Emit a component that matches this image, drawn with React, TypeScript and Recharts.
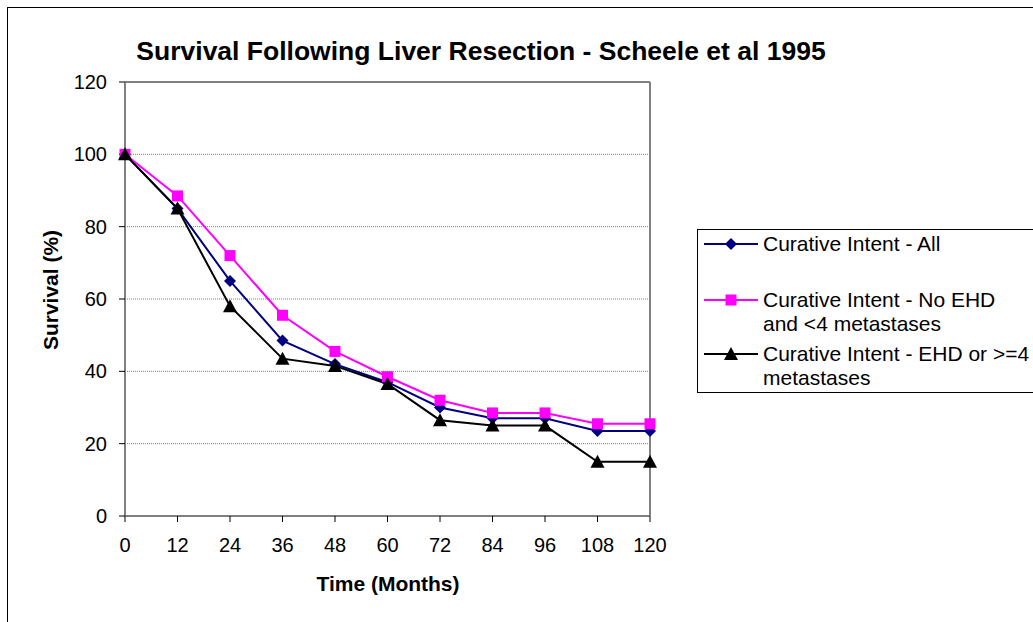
import React from "react";
import { LineChart, Line, XAxis, YAxis, CartesianGrid, ReferenceLine } from "recharts";

const months = [0, 12, 24, 36, 48, 60, 72, 84, 96, 108, 120];
const allPatients = [100, 85, 65, 48.5, 42, 37, 30, 27, 27, 23.5, 23.5];
const noEhd = [100, 88.5, 72, 55.5, 45.5, 38.5, 32, 28.5, 28.5, 25.5, 25.5];
const ehdOrMore = [100, 85, 58, 43.5, 41.5, 36.5, 26.5, 25, 25, 15, 15];
const yTicks = [0, 20, 40, 60, 80, 100, 120];

const SERIES = [
  { key: "all", lines: ["Curative Intent - All"], color: "#000080", shape: "diamond" },
  { key: "noEhd", lines: ["Curative Intent - No EHD", "and <4 metastases"], color: "#ff00ff", shape: "square" },
  { key: "ehd", lines: ["Curative Intent - EHD or >=4", "metastases"], color: "#000000", shape: "triangle" },
];

const data = months.map((m, i) => ({
  month: m,
  all: allPatients[i],
  noEhd: noEhd[i],
  ehd: ehdOrMore[i],
}));

const FONT = "'Liberation Sans', Arial, sans-serif";

function Marker({ cx, cy, shape, color }: { cx: number; cy: number; shape: string; color: string }) {
  if (shape === "diamond") {
    return <polygon points={`${cx},${cy - 6} ${cx + 6},${cy} ${cx},${cy + 6} ${cx - 6},${cy}`} fill={color} />;
  }
  if (shape === "square") {
    return <rect x={cx - 5.5} y={cy - 5.5} width={11} height={11} fill={color} />;
  }
  return <polygon points={`${cx},${cy - 7} ${cx + 7},${cy + 6} ${cx - 7},${cy + 6}`} fill={color} />;
}

function LegendIcon({ shape, color }: { shape: string; color: string }) {
  return (
    <svg width={54} height={16} style={{ display: "block" }}>
      <line x1={0} y1={8} x2={54} y2={8} stroke={color} strokeWidth={2} />
      <Marker cx={27} cy={8} shape={shape} color={color} />
    </svg>
  );
}

export default function App() {
  const rowTops = [2, 58, 112];
  return (
    <div style={{ position: "fixed", left: 0, top: 0, width: 1033, height: 622, overflow: "hidden", background: "#fff", fontFamily: FONT }}>
      <div style={{ position: "absolute", left: 7, top: 7, width: 1100, height: 700, border: "1px solid #000" }} />
      <div style={{ position: "absolute", left: 0, top: 0 }}>
        <LineChart width={1033} height={622} data={data} margin={{ top: 82, right: 383, bottom: 76, left: 65 }}>
          <CartesianGrid horizontal vertical={false} stroke="#808080" strokeDasharray="1 1" />
          <XAxis
            dataKey="month"
            type="number"
            domain={[0, 120]}
            ticks={months}
            interval={0}
            height={30}
            stroke="#808080"
            strokeWidth={2}
            tickLine={{ stroke: "#000", strokeWidth: 1 }}
            tickSize={6}
            tickMargin={16}
            tick={{ fill: "#000", fontSize: 20, fontFamily: FONT }}
          />
          <YAxis
            type="number"
            domain={[0, 120]}
            ticks={yTicks}
            interval={0}
            width={60}
            stroke="#808080"
            strokeWidth={2}
            tickLine={{ stroke: "#000", strokeWidth: 1 }}
            tickSize={6}
            tickMargin={12}
            tick={{ fill: "#000", fontSize: 20, fontFamily: FONT }}
          />
          <ReferenceLine y={120} stroke="#808080" strokeWidth={2} />
          <ReferenceLine x={120} stroke="#808080" strokeWidth={2} />
          {SERIES.map((s) => (
            <Line
              key={s.key}
              dataKey={s.key}
              name={s.lines.join(" ")}
              stroke={s.color}
              strokeWidth={2}
              isAnimationActive={false}
              dot={(p: any) => <Marker key={`${s.key}-${p.index}`} cx={p.cx} cy={p.cy} shape={s.shape} color={s.color} />}
              activeDot={false}
            />
          ))}
        </LineChart>
      </div>
      <div style={{ position: "absolute", left: 81, width: 800, top: 36, textAlign: "center", fontSize: 26.5, fontWeight: "bold", whiteSpace: "nowrap" }}>
        Survival Following Liver Resection - Scheele et al 1995
      </div>
      <div style={{ position: "absolute", left: 238, width: 300, top: 572, textAlign: "center", fontSize: 21, fontWeight: "bold" }}>
        Time (Months)
      </div>
      <div
        style={{
          position: "absolute",
          left: 51,
          top: 290,
          transform: "translate(-50%, -50%) rotate(-90deg)",
          fontSize: 21,
          fontWeight: "bold",
          whiteSpace: "nowrap",
        }}
      >
        Survival (%)
      </div>
      <div style={{ position: "absolute", left: 697, top: 229, width: 400, height: 162, border: "1px solid #000", fontSize: 21 }}>
        {SERIES.map((s, i) => (
          <div key={s.key} style={{ position: "absolute", left: 6, top: rowTops[i], display: "flex", alignItems: "flex-start" }}>
            <div style={{ marginTop: 4 }}>
              <LegendIcon shape={s.shape} color={s.color} />
            </div>
            <div style={{ marginLeft: 5, lineHeight: "24px", whiteSpace: "nowrap" }}>
              {s.lines.map((l) => (
                <div key={l}>{l}</div>
              ))}
            </div>
          </div>
        ))}
      </div>
    </div>
  );
}
